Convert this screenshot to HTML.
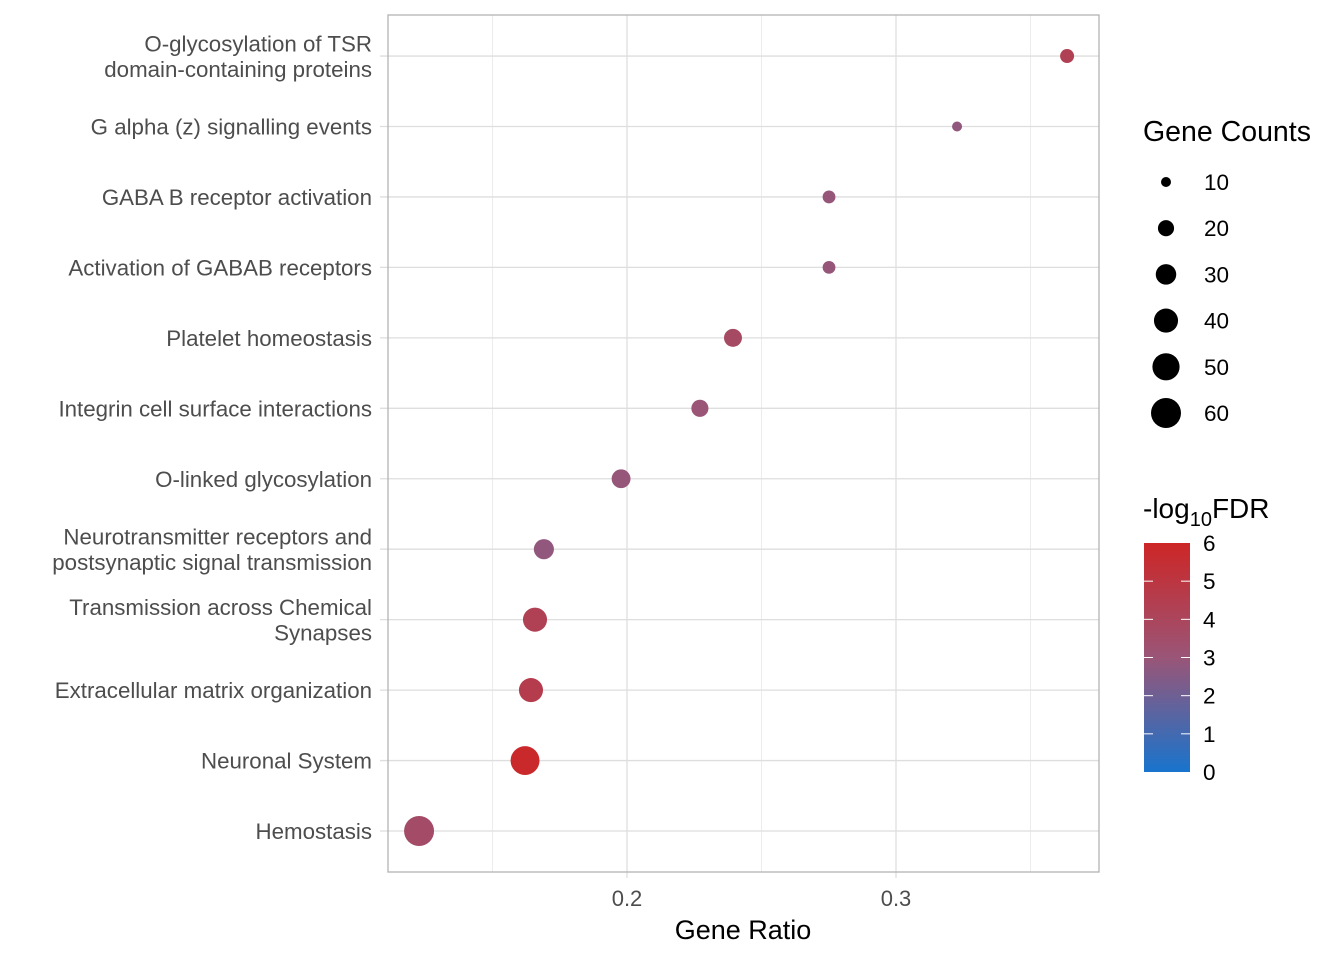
<!DOCTYPE html>
<html><head><meta charset="utf-8"><style>
body{margin:0;background:#fff;font-family:"Liberation Sans",Arial,sans-serif}
</style></head><body>
<svg id="chart" width="1344" height="960" xmlns="http://www.w3.org/2000/svg">
<defs><linearGradient id="cg" x1="0" y1="1" x2="0" y2="0">
<stop offset="0" stop-color="#1874CD"/><stop offset="0.5" stop-color="#9A5577"/><stop offset="1" stop-color="#CD2626"/>
</linearGradient></defs>
<g id="grid"></g>
<g id="pts"></g>
<g id="ylab"></g>
<g id="xlab"></g>
<rect x="388" y="15" width="711" height="857" fill="none" stroke="#b3b3b3" stroke-width="1.3"/>
<text x="743" y="939" font-size="27" text-anchor="middle" fill="#000">Gene Ratio</text>
<text x="1143" y="141" font-size="28.5" fill="#000">Gene Counts</text>
<g id="sizeleg"></g>
<text x="1143" y="518" font-size="28" fill="#000">-log<tspan font-size="20" dy="8">10</tspan><tspan dy="-8">FDR</tspan></text>
<rect x="1144" y="543" width="46" height="229" fill="url(#cg)"/>
<g id="colleg"></g>
</svg>
<script>
const categories=["Hemostasis","Neuronal System","Extracellular matrix organization","Transmission across Chemical|Synapses","Neurotransmitter receptors and|postsynaptic signal transmission","O-linked glycosylation","Integrin cell surface interactions","Platelet homeostasis","Activation of GABAB receptors","GABA B receptor activation","G alpha (z) signalling events","O-glycosylation of TSR|domain-containing proteins"];
const geneRatio=[0.1227,0.1621,0.1643,0.1658,0.1691,0.1978,0.2271,0.2394,0.2751,0.2751,0.3227,0.3636];
const geneCounts=[60,56,40,40,29,26,22,24,14,14,10,16];
const logFDR=[3.6,5.8,4.6,4.3,2.8,2.9,3.0,3.7,2.9,2.9,2.8,4.3];
const xTicks=[0.2,0.3];
const xMinor=[0.15,0.25,0.35];
const sizeBreaks=[10,20,30,40,50,60];
const colorBreaks=[0,1,2,3,4,5,6];
const NS="http://www.w3.org/2000/svg";
const X=v=>627+(v-0.2)*2690;
const Y=i=>831-i*70.45;
const R=c=>Math.sqrt(Math.max(4*c-15,1));
const CB=v=>772-v*(229/6);
function hex2(h){return [1,3,5].map(i=>parseInt(h.substr(i,2),16));}
const stops=[[0,hex2("#1874CD")],[3,hex2("#9A5577")],[6,hex2("#CD2626")]];
function col(v){let a=stops[0],b=stops[1];if(v>3){a=stops[1];b=stops[2];}const t=(v-a[0])/(b[0]-a[0]);return "rgb("+a[1].map((c,k)=>Math.round(c+(b[1][k]-c)*t)).join(",")+")";}
function mk(tag,at,par){const e=document.createElementNS(NS,tag);for(const k in at)e.setAttribute(k,at[k]);par.appendChild(e);return e;}
const grid=document.getElementById('grid');
xMinor.forEach(v=>{const l=mk('line',{x1:X(v),x2:X(v),y1:15,y2:872,stroke:'#ececec','stroke-width':1},grid);

});
xTicks.forEach(v=>{const l=mk('line',{x1:X(v),x2:X(v),y1:15,y2:872,stroke:'#dedede','stroke-width':1.3},grid);


mk('line',{x1:X(v),x2:X(v),y1:872,y2:878,stroke:'#dedede','stroke-width':1.3},grid);});
categories.forEach((c,i)=>{const l=mk('line',{x1:380,x2:1099,y1:Y(i),y2:Y(i),stroke:'#dedede','stroke-width':1.3},grid);

});
const xl=document.getElementById('xlab');
xTicks.forEach(v=>{const t=mk('text',{x:X(v),y:906,'font-size':22,'text-anchor':'middle',fill:'#4d4d4d'},xl);t.textContent=v.toFixed(1);

});
const yl=document.getElementById('ylab');
categories.forEach((c,i)=>{const parts=c.split('|');const t=mk('text',{x:372,'font-size':22.3,'text-anchor':'end',fill:'#4d4d4d'},yl);


const y0=Y(i)+8-(parts.length-1)*12.5;
parts.forEach((p,k)=>{const s=mk('tspan',{x:372,y:y0+k*25.5},t);s.textContent=p;});});
const pts=document.getElementById('pts');
categories.forEach((c,i)=>{const p=mk('circle',{cx:X(geneRatio[i]),cy:Y(i),r:R(geneCounts[i]),fill:col(logFDR[i])},pts);

});
const sl=document.getElementById('sizeleg');
sizeBreaks.forEach((b,k)=>{const y=182+k*46.2;const p=mk('circle',{cx:1166,cy:y,r:R(b),fill:'#000'},sl);


const t=mk('text',{x:1204,y:y+8,'font-size':22.5,fill:'#000'},sl);t.textContent=b;

});
const cl=document.getElementById('colleg');
colorBreaks.forEach(b=>{const y=CB(b);
if(b>0&&b<6){mk('line',{x1:1144,x2:1153,y1:y,y2:y,stroke:'#fff','stroke-width':1},cl);mk('line',{x1:1181,x2:1190,y1:y,y2:y,stroke:'#fff','stroke-width':1},cl);}
const t=mk('text',{x:1203,y:y+8,'font-size':22.5,fill:'#000'},cl);t.textContent=b;

});
</script>
</body></html>
